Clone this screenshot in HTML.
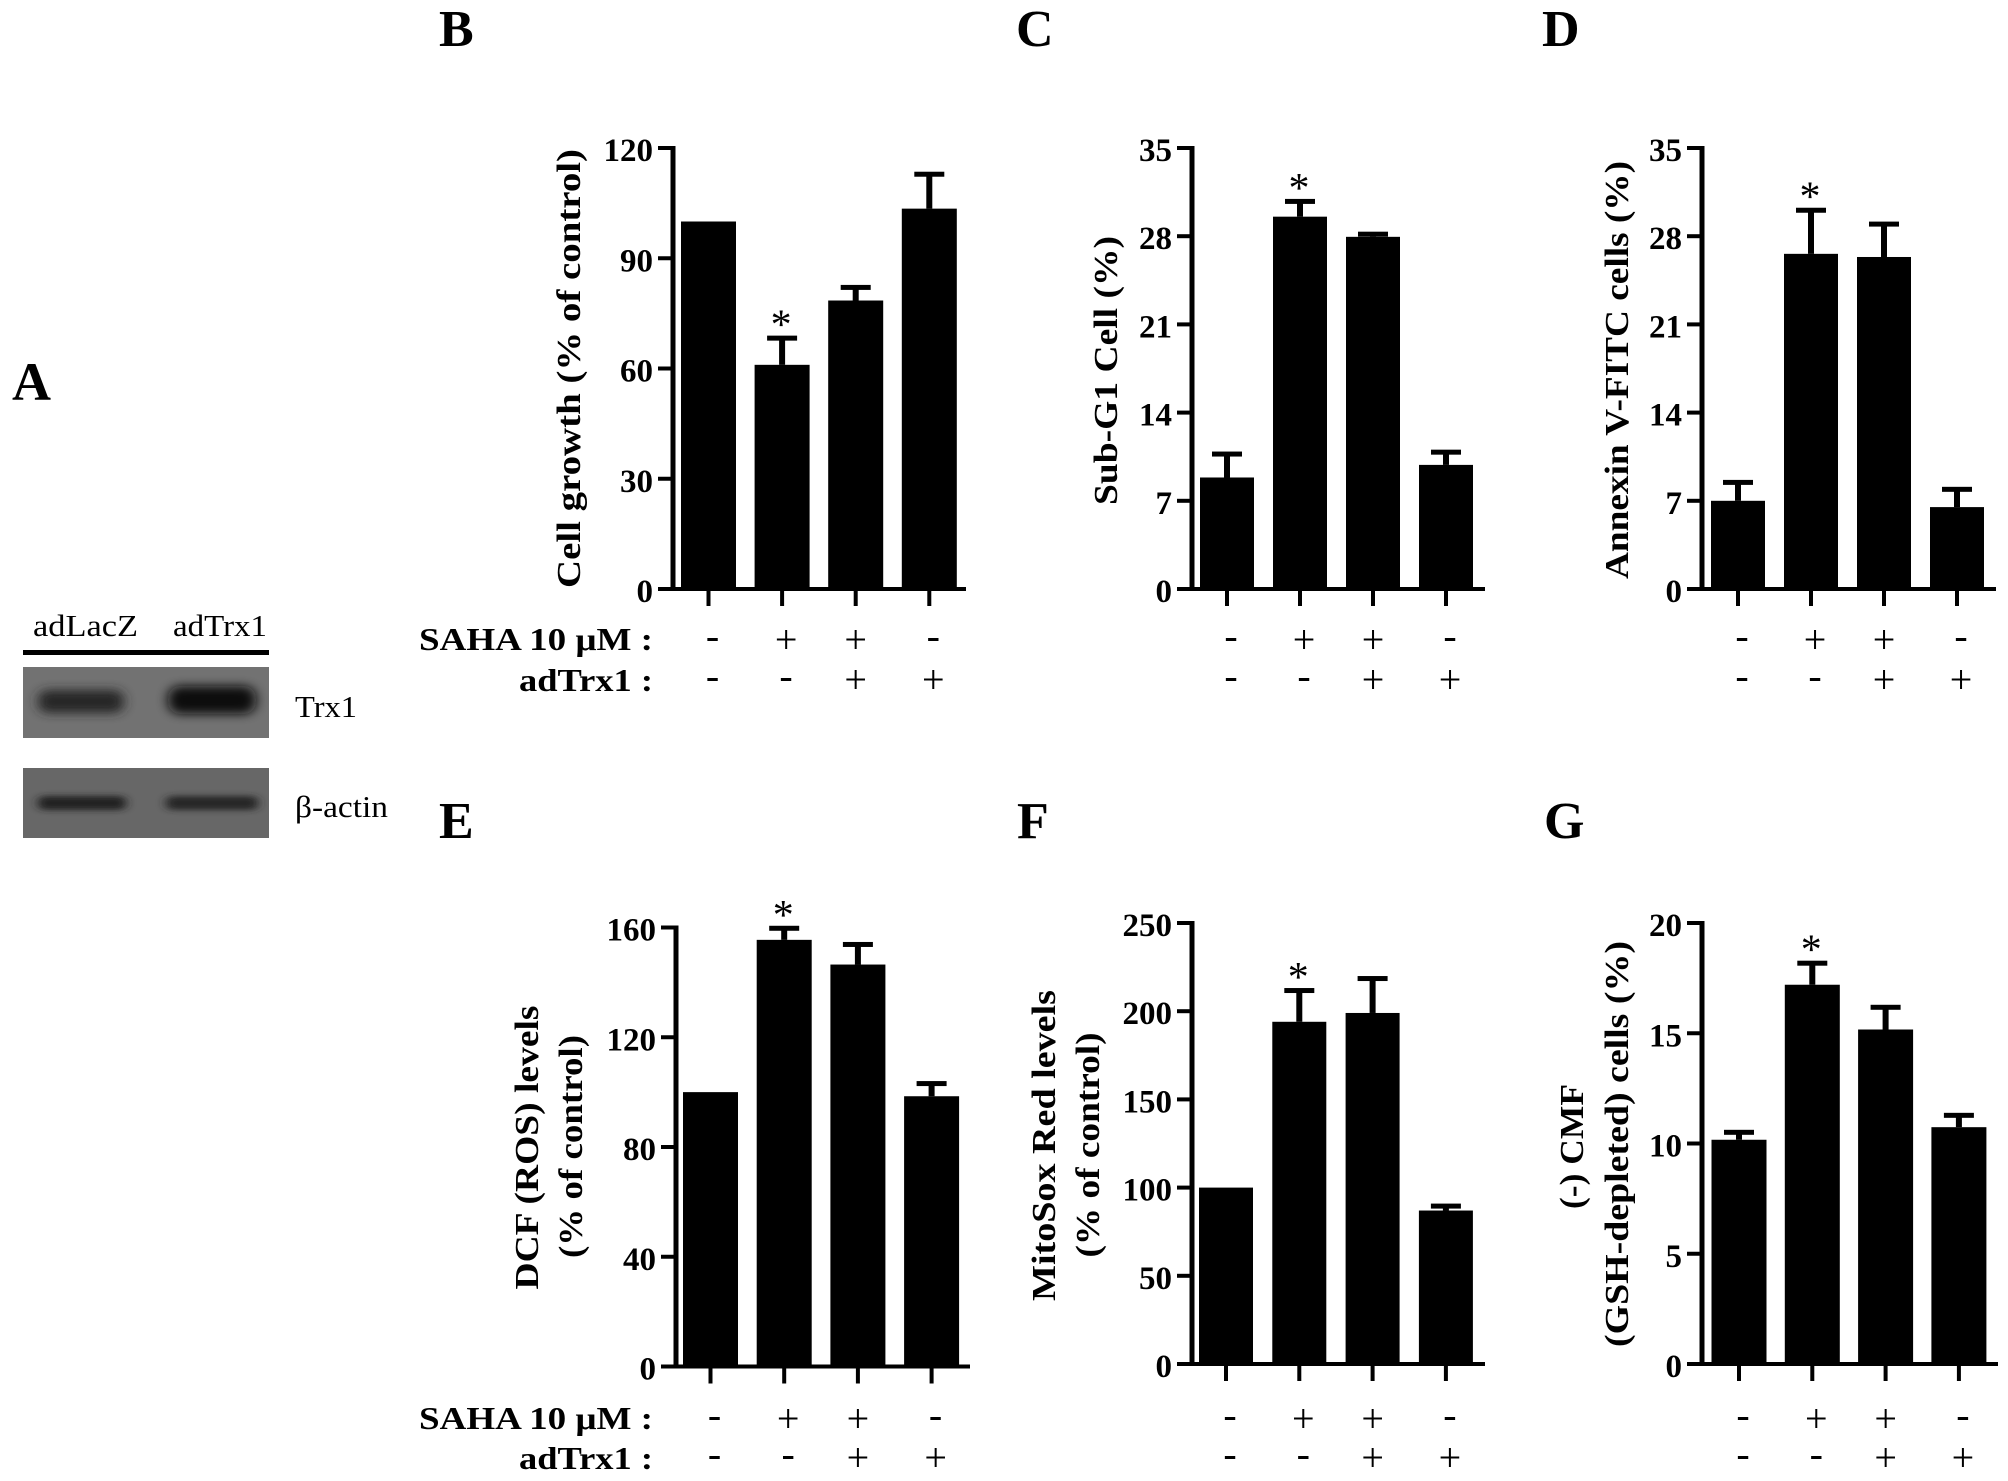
<!DOCTYPE html>
<html lang="en">
<head>
<meta charset="utf-8">
<title>Panels A-G: Trx1 western blot and bar charts</title>
<style>
  html, body { margin: 0; padding: 0; background: #fff; }
  svg { display: block; }
  text { font-family: "Liberation Serif", serif; fill: #000; }
  .b { font-weight: bold; }
</style>
</head>
<body>
<svg id="figure" xmlns="http://www.w3.org/2000/svg" width="2008" height="1481" viewBox="0 0 2008 1481">
  <defs>
    <filter id="blur-band" x="-40%" y="-150%" width="180%" height="400%"><feGaussianBlur stdDeviation="6 5"></feGaussianBlur></filter>
    <filter id="blur-thin" x="-40%" y="-150%" width="180%" height="400%"><feGaussianBlur stdDeviation="5 3"></feGaussianBlur></filter>
    <clipPath id="clip-blot-1"><rect x="23" y="667" width="246" height="71"></rect></clipPath>
    <clipPath id="clip-blot-2"><rect x="23" y="768" width="246" height="70"></rect></clipPath>
  </defs>
  <rect width="2008" height="1481" fill="#fff"></rect>

  <g>
    <text class="b" x="12" y="400" font-size="54">A</text>
    <text x="33" y="636" font-size="31" textLength="105" lengthAdjust="spacingAndGlyphs">adLacZ</text>
    <text x="173" y="636" font-size="31" textLength="94" lengthAdjust="spacingAndGlyphs">adTrx1</text>
    <rect x="23" y="650" width="246" height="5" fill="#000"></rect>
    <g clip-path="url(#clip-blot-1)">
      <rect x="23" y="667" width="246" height="71" fill="#727272"></rect>
      <rect x="38" y="690" width="86" height="23" rx="10" fill="#262626" filter="url(#blur-band)"></rect>
      <rect x="168" y="686" width="88" height="28" rx="12" fill="#0a0a0a" filter="url(#blur-band)"></rect>
    </g>
    <g clip-path="url(#clip-blot-2)">
      <rect x="23" y="768" width="246" height="70" fill="#676767"></rect>
      <rect x="38" y="796" width="88" height="14" rx="6" fill="#222" filter="url(#blur-thin)"></rect>
      <rect x="166" y="796" width="92" height="14" rx="6" fill="#262626" filter="url(#blur-thin)"></rect>
    </g>
    <text x="295" y="717" font-size="31" textLength="62" lengthAdjust="spacingAndGlyphs">Trx1</text>
    <text x="295" y="817" font-size="31" textLength="93" lengthAdjust="spacingAndGlyphs">β-actin</text>
  </g>

  <g>
    <text class="b" x="439" y="46" font-size="52">B</text>
    <text class="b" x="1016" y="46" font-size="52">C</text>
    <text class="b" x="1542" y="46" font-size="52">D</text>
    <text class="b" x="439" y="838" font-size="52">E</text>
    <text class="b" x="1017" y="838" font-size="52">F</text>
    <text class="b" x="1544" y="838" font-size="52">G</text>
  </g>

  <g>
    <text class="b" x="419" y="650" font-size="32" textLength="234" lengthAdjust="spacingAndGlyphs">SAHA 10 μM :</text>
    <text class="b" x="519" y="691" font-size="32" textLength="134" lengthAdjust="spacingAndGlyphs">adTrx1 :</text>
    <text class="b" x="419" y="1429" font-size="32" textLength="234" lengthAdjust="spacingAndGlyphs">SAHA 10 μM :</text>
    <text class="b" x="519" y="1469" font-size="32" textLength="134" lengthAdjust="spacingAndGlyphs">adTrx1 :</text>
  </g>
</svg>

<script>
// Treatment rows (shared by all bar charts)
const sahaRow = ['-', '+', '+', '-'];
const adTrx1Row = ['-', '-', '+', '+'];

// Panel B: cell growth
const growthTicks = [0, 30, 60, 90, 120];
const growthValues = [100, 61, 78.5, 103.5];
const growthErrors = [0, 7.4, 3.7, 9.5];
const growthSignificant = [false, true, false, false];

// Panel C: sub-G1
const subG1Ticks = [0, 7, 14, 21, 28, 35];
const subG1Values = [8.85, 29.55, 27.95, 9.85];
const subG1Errors = [1.9, 1.25, 0.25, 1.05];
const subG1Significant = [false, true, false, false];

// Panel D: annexin V
const annexinTicks = [0, 7, 14, 21, 28, 35];
const annexinValues = [7.0, 26.6, 26.35, 6.5];
const annexinErrors = [1.5, 3.5, 2.65, 1.45];
const annexinSignificant = [false, true, false, false];

// Panel E: DCF ROS
const dcfTicks = [0, 40, 80, 120, 160];
const dcfValues = [100, 155.5, 146.5, 98.5];
const dcfErrors = [0, 4.4, 7.5, 4.8];
const dcfSignificant = [false, true, false, false];

// Panel F: MitoSox Red
const mitoTicks = [0, 50, 100, 150, 200, 250];
const mitoValues = [100, 194, 199, 87];
const mitoErrors = [0, 18, 19.8, 2.8];
const mitoSignificant = [false, true, false, false];

// Panel G: CMF
const cmfTicks = [0, 5, 10, 15, 20];
const cmfValues = [10.17, 17.2, 15.17, 10.74];
const cmfErrors = [0.36, 1.0, 1.03, 0.56];
const cmfSignificant = [false, true, false, false];

const NS = 'http://www.w3.org/2000/svg';
const figure = document.getElementById('figure');

function make(tag, attrs, parent) {
  const node = document.createElementNS(NS, tag);
  for (const key in attrs) node.setAttribute(key, attrs[key]);
  parent.appendChild(node);
  return node;
}

function signBaseline(rowY, sign) {
  return sign === '+' ? rowY + 14 : rowY + 10;
}

function drawChart(cfg) {
  const group = make('g', {}, figure);
  
  

  const yScale = function (v) { return cfg.bottom - (v / cfg.max) * (cfg.bottom - cfg.top); };
  const xScale = function (i) { return cfg.firstX + i * cfg.stepX; };

  // bars and error bars
  cfg.values.forEach(function (value, i) {
    const cx = xScale(i);
    const err = cfg.errors[i];
    if (err > 0) {
      const stem = make('rect', { x: cx - 3, y: yScale(value + err), width: 6, height: yScale(value) - yScale(value + err), fill: '#000' }, group);
      
      
      const cap = make('rect', { x: cx - 15, y: yScale(value + err) - 2, width: 30, height: 5, fill: '#000' }, group);
      
      
    }
    const bar = make('rect', { x: cx - cfg.barW / 2, y: yScale(value), width: cfg.barW, height: cfg.bottom - yScale(value), fill: '#000' }, group);
    
    

    if (cfg.significant[i]) {
      const star = make('text', { x: cx - 1, y: yScale(value + err) + 1, 'font-size': 42, 'text-anchor': 'middle' }, group);
      star.textContent = '*';
      
      
    }

    const xTick = make('rect', { x: cx - 2, y: cfg.bottom, width: 4, height: 17, fill: '#000' }, group);
    
    

    const shift = i === 2 ? 0 : 4;
    const rowTop = make('text', { x: cx + shift, y: signBaseline(cfg.rowY1, sahaRow[i]), 'font-size': 40, 'text-anchor': 'middle' }, group);
    rowTop.textContent = sahaRow[i];
    
    
    const rowBottom = make('text', { x: cx + shift, y: signBaseline(cfg.rowY2, adTrx1Row[i]), 'font-size': 40, 'text-anchor': 'middle' }, group);
    rowBottom.textContent = adTrx1Row[i];
    
    
  });

  // axes
  const yAxis = make('rect', { x: cfg.axisX - 2.5, y: cfg.top - 2, width: 5, height: cfg.bottom - cfg.top + 4, fill: '#000' }, group);
  
  
  const xAxis = make('rect', { x: cfg.axisX - 15, y: cfg.bottom - 2, width: cfg.axisEnd - cfg.axisX + 15, height: 4, fill: '#000' }, group);
  
  

  cfg.ticks.forEach(function (tickValue) {
    const yTick = make('rect', { x: cfg.axisX - 15, y: yScale(tickValue) - 2, width: 15, height: 4, fill: '#000' }, group);
    
    
    const label = make('text', { x: cfg.axisX - 20, y: yScale(tickValue) + 13, 'font-size': 33, 'font-weight': 'bold', 'text-anchor': 'end' }, group);
    label.textContent = String(tickValue);
    
    
  });

  // axis title lines
  cfg.titles.forEach(function (t, i) {
    const title = make('text', {
      x: t.x, y: t.y, 'font-size': 34, 'font-weight': 'bold', 'text-anchor': 'middle',
      transform: 'rotate(-90 ' + t.x + ' ' + t.y + ')',
      textLength: t.len, lengthAdjust: 'spacingAndGlyphs'
    }, group);
    title.textContent = t.text;
    
    
  });
}

drawChart({
  key: 'b', values: growthValues, errors: growthErrors, significant: growthSignificant, ticks: growthTicks, max: 120,
  axisX: 673, top: 148, bottom: 589, axisEnd: 966, firstX: 708.5, stepX: 73.6, barW: 55, rowY1: 639, rowY2: 679,
  titles: [{ text: 'Cell growth (% of control)', x: 580, y: 368.5, len: 439 }]
});
drawChart({
  key: 'c', values: subG1Values, errors: subG1Errors, significant: subG1Significant, ticks: subG1Ticks, max: 35,
  axisX: 1192, top: 148, bottom: 589, axisEnd: 1485, firstX: 1227, stepX: 73, barW: 54, rowY1: 639, rowY2: 679,
  titles: [{ text: 'Sub-G1 Cell (%)', x: 1117, y: 370.5, len: 269 }]
});
drawChart({
  key: 'd', values: annexinValues, errors: annexinErrors, significant: annexinSignificant, ticks: annexinTicks, max: 35,
  axisX: 1702, top: 148, bottom: 589, axisEnd: 1996, firstX: 1738, stepX: 73, barW: 54, rowY1: 639, rowY2: 679,
  titles: [{ text: 'Annexin V-FITC cells (%)', x: 1628, y: 370, len: 418 }]
});
drawChart({
  key: 'e', values: dcfValues, errors: dcfErrors, significant: dcfSignificant, ticks: dcfTicks, max: 160,
  axisX: 676, top: 927.5, bottom: 1366.5, axisEnd: 970, firstX: 710.5, stepX: 73.7, barW: 55, rowY1: 1418, rowY2: 1457,
  titles: [
    { text: 'DCF (ROS) levels', x: 538, y: 1147.5, len: 284 },
    { text: '(% of control)', x: 582, y: 1146.5, len: 223 }
  ]
});
drawChart({
  key: 'f', values: mitoValues, errors: mitoErrors, significant: mitoSignificant, ticks: mitoTicks, max: 250,
  axisX: 1192, top: 923, bottom: 1364, axisEnd: 1485, firstX: 1226, stepX: 73.3, barW: 54, rowY1: 1418, rowY2: 1457,
  titles: [
    { text: 'MitoSox Red levels', x: 1055, y: 1145.5, len: 311 },
    { text: '(% of control)', x: 1099, y: 1145, len: 225 }
  ]
});
drawChart({
  key: 'g', values: cmfValues, errors: cmfErrors, significant: cmfSignificant, ticks: cmfTicks, max: 20,
  axisX: 1702, top: 923, bottom: 1364, axisEnd: 1998, firstX: 1739, stepX: 73.3, barW: 55, rowY1: 1418, rowY2: 1457,
  titles: [
    { text: '(-) CMF', x: 1583, y: 1146.5, len: 125 },
    { text: '(GSH-depleted) cells (%)', x: 1628, y: 1144, len: 406 }
  ]
});
</script>
</body>
</html>
